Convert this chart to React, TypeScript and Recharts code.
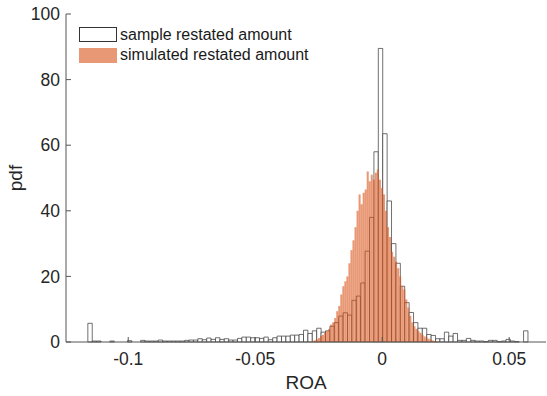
import { BarChart, Bar, XAxis, YAxis, Legend } from 'recharts'

// sample histogram: 100 bins
const sampleStart = -0.1159
const sampleBinWidth = 0.001733
const sampleCounts = [
  5.7, 0.3, 0.3, 0, 0, 0.3, 0, 0, 0, 0.4,
  0, 0, 0.5, 0.3, 0.3, 0.3, 0.6, 0.3, 0.3, 0.3,
  0.3, 0.3, 0.5, 0.6, 0.6, 1.0, 0.7, 1.2, 0.8, 1.3,
  0.8, 1.0, 0.6, 0.6, 1.1, 1.5, 1.5, 1.3, 1.3, 1.1,
  1.5, 0.7, 1.3, 1.8, 1.8, 1.8, 2.1, 2.1, 2.3, 3.6,
  2.6, 3.4, 4.2, 3.0, 3.4, 4.8, 5.9, 7.9, 8.9, 8.2,
  12.7, 14, 18, 27.7, 38, 58, 89.5, 63.5, 43, 30,
  24, 17, 12, 9, 5.9, 4.2, 4.2, 2.3, 2.0, 1.0,
  1.0, 3.0, 1.8, 2.6, 0.5, 0.5, 1.1, 0.5, 0.3, 0.3,
  0.1, 0.5, 0.5, 0.1, 0.3, 0.8, 0.3, 0.1, 0, 3.4
]

// simulated histogram: 62 bins
const simStart = -0.0277
const simBinWidth = 0.0008
const simCounts = [
  0.3, 0.5, 0.8, 1.2, 1.8, 2.2, 2.8, 3.3, 4.0, 5.3,
  6.0, 7.3, 9.4, 11, 14.5, 17, 18.5, 20, 24, 28,
  31, 35, 40, 45, 42, 45.5, 46.5, 52, 49, 51,
  49.5, 51.6, 52.6, 49.5, 47, 45, 40, 35, 32, 27.5,
  26, 24.5, 22.5, 20, 17, 16, 13, 10.5, 8, 6,
  4.8, 4, 3.3, 2.8, 2.2, 1.7, 1.3, 1.0, 0.7, 0.5,
  0.3, 0.2
]

const xTicks = [-0.1, -0.05, 0, 0.05]
const yTicks = [0, 20, 40, 60, 80, 100]
const legendNames = ['sample restated amount', 'simulated restated amount']

const toBins = (start: number, width: number, counts: number[]) =>
  counts.map((count, i) => ({ x: start + (i + 0.5) * width, count }))

const sampleData = toBins(sampleStart, sampleBinWidth, sampleCounts)
const simData = toBins(simStart, simBinWidth, simCounts)

const W = 547
const H = 396
const margin = { top: 14, right: 1, bottom: 4, left: 4 }
const xDomain: [number, number] = [-0.1245, 0.0645]
const textColor = '#262626'
const axisColor = '#555'
const font = "'Liberation Sans', Arial, sans-serif"

function LegendBox () {
  return (
    <div style={{ fontSize: 16, color: '#1a1a1a', fontFamily: font }}>
      {legendNames.map((name, i) => (
        <div key={name} style={{ display: 'flex', alignItems: 'center', height: 20.5 }}>
          <span
            style={{
              width: 38,
              height: 15,
              boxSizing: 'border-box',
              border: i === 0 ? '1px solid #333' : 'none',
              background: i === 0 ? '#fff' : 'rgba(217,83,25,0.6)'
            }}
          />
          <span style={{ marginLeft: 3, whiteSpace: 'nowrap' }}>{name}</span>
        </div>
      ))}
    </div>
  )
}

export default function App () {
  return (
    <div style={{ position: 'absolute', left: 0, top: 0, width: W, height: H, background: '#fff', fontFamily: font }}>
      {/* bottom layer: sample histogram, white bars with dark edges */}
      <div style={{ position: 'absolute', left: 0, top: 0 }}>
        <BarChart width={W} height={H} data={sampleData} margin={margin} barCategoryGap={0} barGap={0}>
          <XAxis dataKey="x" type="number" domain={xDomain} allowDataOverflow ticks={xTicks}
            height={50} tick={false} axisLine={false} tickLine={false} />
          <YAxis domain={[0, 100]} ticks={yTicks} width={62} tick={false} axisLine={false} tickLine={false} />
          <Bar dataKey="count" barSize={4.4} fill="#fff" stroke="#333" strokeWidth={0.7} isAnimationActive={false} />
        </BarChart>
      </div>
      {/* top layer: simulated histogram with axes and legend */}
      <div style={{ position: 'absolute', left: 0, top: 0 }}>
        <BarChart width={W} height={H} data={simData} margin={margin} barCategoryGap={0} barGap={0}>
          <XAxis
            dataKey="x"
            type="number"
            domain={xDomain}
            allowDataOverflow
            ticks={xTicks}
            interval={0}
            height={50}
            stroke={axisColor}
            tickSize={-5}
            tickMargin={16}
            tick={{ fill: textColor, fontSize: 17.5 }}
            tickFormatter={(v: number) => String(v)}
            label={{ value: 'ROA', position: 'insideBottom', offset: 3, fill: textColor, fontSize: 19 }}
          />
          <YAxis
            domain={[0, 100]}
            ticks={yTicks}
            interval={0}
            width={62}
            stroke={axisColor}
            tickSize={-5}
            tickMargin={11}
            tick={{ fill: textColor, fontSize: 17.5 }}
            label={{ value: 'pdf', angle: -90, position: 'insideLeft', offset: 11, fill: textColor, fontSize: 19, style: { textAnchor: 'middle' } }}
          />
          <Bar dataKey="count" barSize={2.03} fill="#D95319" fillOpacity={0.6} isAnimationActive={false} />
          <Legend
            layout="horizontal"
            verticalAlign="middle"
            align="center"
            content={() => <LegendBox />}
            wrapperStyle={{ left: 79, top: 24.5, width: 'auto' }}
          />
        </BarChart>
      </div>
    </div>
  )
}
